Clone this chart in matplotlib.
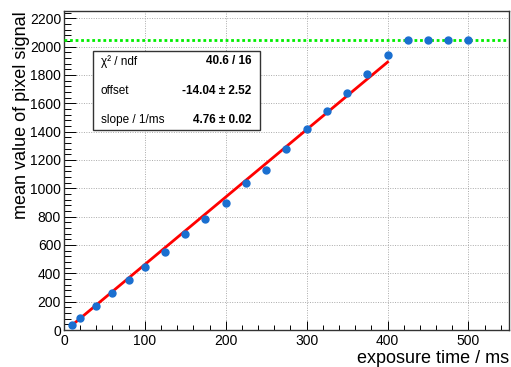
import numpy as np
import matplotlib
matplotlib.use("Agg")
import matplotlib.pyplot as plt
from matplotlib.ticker import MultipleLocator
from matplotlib.patches import Rectangle

plt.rcParams["font.family"] = ["Liberation Sans", "DejaVu Sans"]

# measured points
t_ms   = [10, 20, 40, 60, 80, 100, 125, 150, 175, 200, 225, 250, 275, 300, 325,
          350, 375, 400, 425, 450, 475, 500]
signal = [35, 82, 169, 258, 352, 441, 551, 676, 786, 899, 1040, 1132, 1278, 1415, 1546,
          1670, 1808, 1937, 2044, 2044, 2044, 2044]
sig_err = [8, 9, 9, 10, 10, 11, 12, 12, 13, 14, 22, 14, 15, 16, 18, 17, 18, 20, 8, 8, 8, 8]

# fit result
offset, slope = -14.04, 4.76
fit_range = [10, 400]
saturation = 2045
stats = [("χ² / ndf", "40.6 / 16"),
         ("offset", "-14.04 ± 2.52"),
         ("slope / 1/ms", "4.76 ± 0.02")]

fig = plt.figure(figsize=(5.11, 3.67), dpi=100, facecolor="white")
ax = fig.add_axes([0.125, 0.1008, 0.871, 0.869])

ax.grid(True, which="major", ls=(0, (1, 1.5)), color="#aaa", lw=0.7)
ax.set_axisbelow(True)

xf = np.linspace(fit_range[0], fit_range[1], 50)
ax.plot(xf, offset + slope * xf, color="#ff0000", lw=2, zorder=4)
ax.axhline(saturation, color="#00ee00", lw=2, ls=(0, (1, 1)), zorder=3)
ax.errorbar(t_ms, signal, yerr=sig_err, fmt="o", color="#1a6fd0", ms=5,
            ecolor="black", elinewidth=0.8, capsize=0, zorder=5)

ax.set_xlim(0, 550)
ax.set_ylim(0, 2250)
ax.xaxis.set_major_locator(MultipleLocator(100))
ax.xaxis.set_minor_locator(MultipleLocator(20))
ax.yaxis.set_major_locator(MultipleLocator(200))
ax.yaxis.set_minor_locator(MultipleLocator(40))
ax.tick_params(which="both", direction="in", top=False, right=False,
               labelsize=10, colors="black", width=0.7)
ax.tick_params(axis="x", which="major", length=6.5, pad=3)
ax.tick_params(axis="x", which="minor", length=3.3)
ax.tick_params(axis="y", which="major", length=8.6, pad=2)
ax.tick_params(axis="y", which="minor", length=5)
for sp in ax.spines.values():
    sp.set_color("#333")
    sp.set_linewidth(1)

ax.set_xlabel("exposure time / ms", fontsize=13, loc="right", labelpad=1)
ax.set_ylabel("mean value of pixel signal", fontsize=13, loc="top", labelpad=0)

# stats box
ax.add_patch(Rectangle((0.0645, 0.627), 0.376, 0.248, transform=ax.transAxes,
                       facecolor="white", edgecolor="#333", lw=1, zorder=6))
for i, (lab, val) in enumerate(stats):
    y = 0.842 - i * 0.092
    ax.text(0.083, y, lab, transform=ax.transAxes, fontsize=8.5,
            va="center", ha="left", zorder=7)
    ax.text(0.422, y, val, transform=ax.transAxes, fontsize=8.5,
            va="center", ha="right", fontweight="bold", zorder=7)

fig.savefig("out.png", dpi=100)
